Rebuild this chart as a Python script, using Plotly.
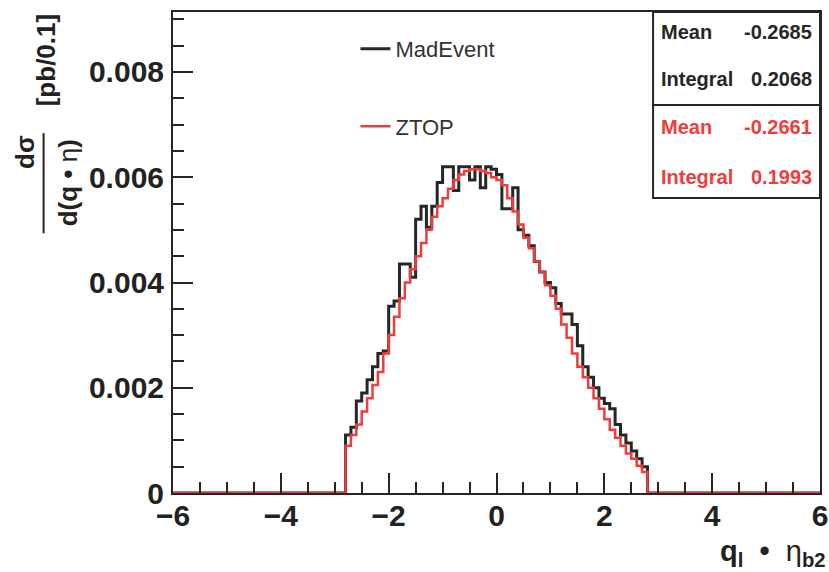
import plotly.graph_objects as go

# Histogram binning: 0.1 wide bins on [-6, 6]; only [-2.8, 2.8] is populated
bin_width = 0.1
x_min, x_max = -6.0, 6.0
filled_lo = -2.8

# d(sigma)/d(q*eta) [pb/0.1], bins from -2.8 to 2.8
madevent = [
    0.00110, 0.00125, 0.00175, 0.00190, 0.00215, 0.00240, 0.00265, 0.00270,
    0.00355, 0.00365, 0.00435, 0.00435, 0.00410, 0.00520, 0.00545, 0.00505,
    0.00545, 0.00590, 0.00620, 0.00620, 0.00575, 0.00620, 0.00620, 0.00595,
    0.00620, 0.00580, 0.00620, 0.00615, 0.00605, 0.00540, 0.00540, 0.00580,
    0.00500, 0.00490, 0.00470, 0.00440, 0.00420, 0.00400, 0.00390, 0.00360,
    0.00340, 0.00340, 0.00320, 0.00280, 0.00240, 0.00220, 0.00200, 0.00180,
    0.00170, 0.00160, 0.00130, 0.00110, 0.00095, 0.00080, 0.00065, 0.00050,
]
ztop = [
    0.00090, 0.00110, 0.00130, 0.00155, 0.00180, 0.00205, 0.00230, 0.00265,
    0.00300, 0.00335, 0.00370, 0.00400, 0.00425, 0.00450, 0.00475, 0.00500,
    0.00525, 0.00545, 0.00560, 0.00578, 0.00595, 0.00605, 0.00612, 0.00615,
    0.00615, 0.00612, 0.00608, 0.00600, 0.00595, 0.00585, 0.00560, 0.00535,
    0.00510, 0.00485, 0.00465, 0.00440, 0.00420, 0.00395, 0.00375, 0.00350,
    0.00320, 0.00295, 0.00265, 0.00240, 0.00220, 0.00200, 0.00180, 0.00160,
    0.00140, 0.00120, 0.00105, 0.00090, 0.00075, 0.00065, 0.00052, 0.00040,
]

# Statistics box entries
stats_madevent = [("Mean", "-0.2685"), ("Integral", "0.2068")]
stats_ztop = [("Mean", "-0.2661"), ("Integral", "0.1993")]

x_ticks = [-6, -4, -2, 0, 2, 4, 6]
y_ticks = [0, 0.002, 0.004, 0.006, 0.008]
y_tick_text = ["0", "0.002", "0.004", "0.006", "0.008"]
y_max = 0.00914

BLACK = "#262626"
RED = "#f03c3c"
FONT = "Liberation Sans, Arial, sans-serif"


def step_xy(vals):
    """Pad the populated bins with empty ones and return step-line coordinates."""
    n_lo = round((filled_lo - x_min) / bin_width)
    n_total = round((x_max - x_min) / bin_width)
    contents = [0.0] * n_lo + list(vals)
    contents += [0.0] * (n_total - len(contents))
    edges = [x_min + i * bin_width for i in range(n_total + 1)]
    return edges, contents + [contents[-1]]


fig = go.Figure()
for name, vals, color, width, grp in [
    ("MadEvent", madevent, BLACK, 3, "g1"),
    ("ZTOP", ztop, RED, 2.5, "g2"),
]:
    xs, ys = step_xy(vals)
    fig.add_trace(go.Scatter(
        x=xs, y=ys, mode="lines", name=name, legendgroup=grp,
        line=dict(shape="hv", color=color, width=width),
    ))

axis_common = dict(
    showgrid=False, zeroline=False, showline=True, linecolor=BLACK,
    linewidth=2, mirror=True, ticks="inside", tickcolor=BLACK,
    tickwidth=2, ticklen=20, automargin=False,
    tickfont=dict(family=FONT, size=30, color="#222", weight="bold"),
)
fig.update_xaxes(
    range=[x_min, x_max], tickvals=x_ticks, ticklabelstandoff=-5,
    minor=dict(dtick=0.5, ticks="inside", ticklen=11, tickwidth=2,
               tickcolor=BLACK),
    **axis_common,
)
fig.update_yaxes(
    range=[0, y_max], tickvals=y_ticks, ticktext=y_tick_text,
    ticklabelstandoff=1,
    minor=dict(dtick=0.0005, ticks="inside", ticklen=11, tickwidth=2,
               tickcolor=BLACK),
    **axis_common,
)

# Stacked statistics boxes in the top-right corner
box_x0 = 0.742
fig.add_shape(type="rect", xref="paper", yref="paper", x0=box_x0, x1=1.0,
              y0=0.8067, y1=1.0, line=dict(color=BLACK, width=2),
              fillcolor="white")
fig.add_shape(type="rect", xref="paper", yref="paper", x0=box_x0, x1=1.0,
              y0=0.6133, y1=0.8067, line=dict(color=BLACK, width=2),
              fillcolor="white")
rows_y = [0.958, 0.86, 0.76, 0.658]
entries = [(k, v, BLACK) for k, v in stats_madevent] + \
          [(k, v, RED) for k, v in stats_ztop]
for (key, val, col), yy in zip(entries, rows_y):
    fig.add_annotation(xref="paper", yref="paper", x=0.751, y=yy,
                       text=f"<b>{key}</b>", showarrow=False, xanchor="left",
                       yanchor="middle",
                       font=dict(family=FONT, size=20, color=col))
    fig.add_annotation(xref="paper", yref="paper", x=0.99, y=yy,
                       text=f"<b>{val}</b>", showarrow=False, xanchor="right",
                       yanchor="middle",
                       font=dict(family=FONT, size=20, color=col))

# x-axis title
fig.add_annotation(
    xref="paper", yref="paper", x=1.0124, y=-0.125, xanchor="right",
    yanchor="middle", showarrow=False,
    text=("<b>q</b><sub><b>l</b></sub>&nbsp;&nbsp;<b>•</b>&nbsp;&nbsp;"
          "η<sub><b>b2</b></sub>"),
    font=dict(family=FONT, size=29, color="#222"),
)

# y-axis title: rotated fraction d(sigma)/d(q*eta) followed by units
ytitle_font = dict(family=FONT, size=26, color="#222")
fig.add_annotation(xref="paper", yref="paper", x=-0.228, y=0.71,
                   text="<b>dσ</b>", textangle=-90, showarrow=False,
                   xanchor="center", yanchor="middle", font=ytitle_font)
fig.add_annotation(xref="paper", yref="paper", x=-0.163, y=0.645,
                   text="<b>d(q • </b>η<b>)</b>", textangle=-90,
                   showarrow=False, xanchor="center", yanchor="middle",
                   font=ytitle_font)
fig.add_shape(type="line", xref="paper", yref="paper", x0=-0.2, x1=-0.2,
              y0=0.54, y1=0.748, line=dict(color="#222", width=2))
fig.add_annotation(xref="paper", yref="paper", x=-0.196, y=0.9,
                   text="<b>[pb/0.1]</b>", textangle=-90, showarrow=False,
                   xanchor="center", yanchor="middle", font=ytitle_font)

fig.update_layout(
    width=829, height=572,
    margin=dict(l=173, r=9, t=12, b=79),
    paper_bgcolor="white", plot_bgcolor="white",
    showlegend=True,
    legend=dict(x=0.282, y=0.967, xanchor="left", yanchor="top",
                bgcolor="rgba(0,0,0,0)", tracegroupgap=46,
                font=dict(family=FONT, size=22, color="#333")),
)

fig.write_html("out.html")
